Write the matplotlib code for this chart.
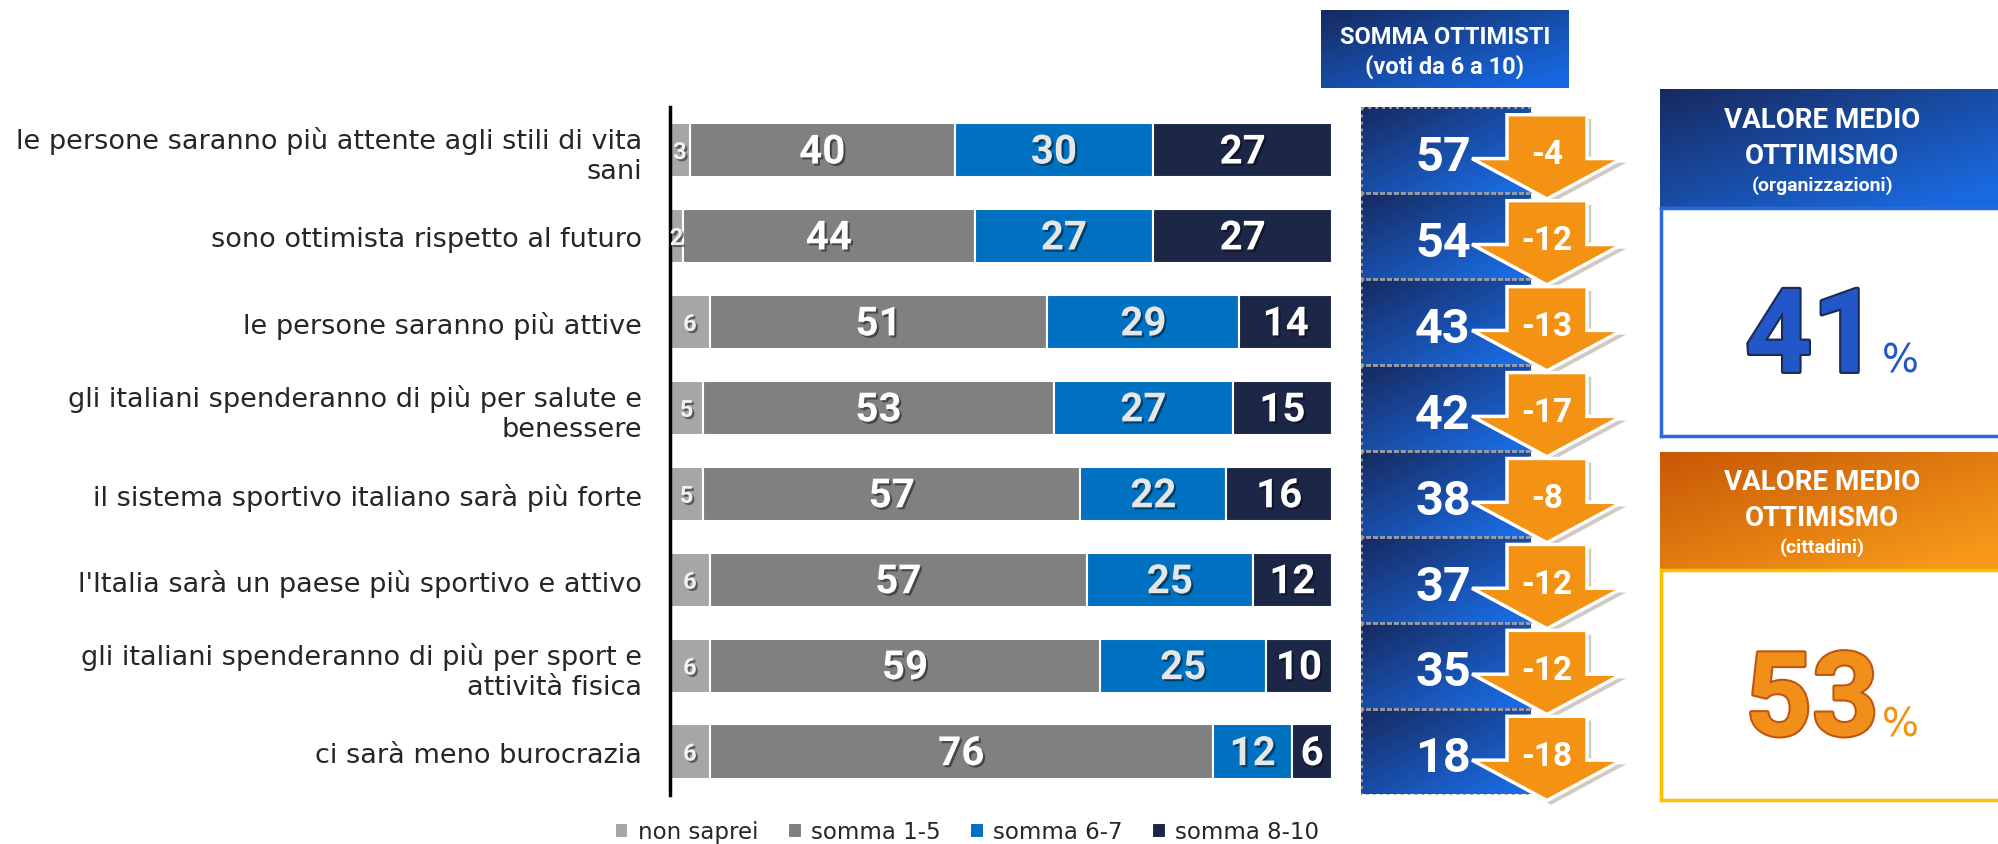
import numpy as np
import matplotlib
matplotlib.use('Agg')
import matplotlib.pyplot as plt
import matplotlib.patheffects as pe
from matplotlib.patches import Polygon, Rectangle
from matplotlib.colors import to_rgb

labels = ['le persone saranno più attente agli stili di vita\nsani',
          'sono ottimista rispetto al futuro',
          'le persone saranno più attive',
          'gli italiani spenderanno di più per salute e\nbenessere',
          'il sistema sportivo italiano sarà più forte',
          "l'Italia sarà un paese più sportivo e attivo",
          'gli italiani spenderanno di più per sport e\nattività fisica',
          'ci sarà meno burocrazia']
non_saprei = [3, 2, 6, 5, 5, 6, 6, 6]
somma_1_5 = [40, 44, 51, 53, 57, 57, 59, 76]
somma_6_7 = [30, 27, 29, 27, 22, 25, 25, 12]
somma_8_10 = [27, 27, 14, 15, 16, 12, 10, 6]
ottimisti = [57, 54, 43, 42, 38, 37, 35, 18]
delta = [-4, -12, -13, -17, -8, -12, -12, -18]
media_org = 41
media_citt = 53

W, H = 1999, 845
NARROW = ['Liberation Sans Narrow', 'Roboto', 'DejaVu Sans']
BOLD = ['Roboto', 'DejaVu Sans']

fig = plt.figure(figsize=(W / 100, H / 100), dpi=100)


def px_axes(x0, y0, x1, y1):
    return fig.add_axes([x0 / W, 1 - y1 / H, (x1 - x0) / W, (y1 - y0) / H])


def grad(c0, c1, n=64):
    xx, yy = np.meshgrid(np.linspace(0, 1, n), np.linspace(0, 1, n))
    t = np.clip(xx * 0.55 + yy * 0.55, 0, 1)[..., None]
    c0, c1 = np.array(to_rgb(c0)), np.array(to_rgb(c1))
    return c0 + t * (c1 - c0)


shadow = [pe.withSimplePatchShadow(offset=(1.5, -1.5), shadow_rgbFace='black', alpha=0.45)]

# stacked bars
ax = px_axes(670, 108, 1332, 795.5)
y = np.arange(len(labels))
series = [(non_saprei, 'non saprei', '#a6a6a6', '#f2f2f2', 17),
          (somma_1_5, 'somma 1-5', '#808080', 'white', 29),
          (somma_6_7, 'somma 6-7', '#0070c0', '#e6e6e6', 29),
          (somma_8_10, 'somma 8-10', '#1c2748', 'white', 29)]
left = np.zeros(len(labels))
handles = []
for vals, name, col, tcol, fs in series:
    vals = np.array(vals)
    b = ax.barh(y, vals, left=left, height=0.63, color=col, edgecolor='white',
                linewidth=1.5, label=name)
    handles.append(b)
    for yi, (l, v) in enumerate(zip(left, vals)):
        ax.text(l + v / 2, yi + 0.03, str(v), ha='center', va='center', color=tcol,
                fontsize=fs, fontweight='bold', family=NARROW, path_effects=shadow)
    left += vals

ax.set_xlim(0, 100)
ax.set_ylim(7.5, -0.5)
ax.set_yticks(y)
ax.set_yticklabels(labels, fontsize=19.5, color='#262626', linespacing=1.2)
ax.tick_params(axis='y', length=0, pad=20)
ax.set_xticks([])
for s in ['top', 'right', 'bottom']:
    ax.spines[s].set_visible(False)
ax.spines['left'].set_linewidth(2.5)
ax.spines['left'].set_color('black')

# somma ottimisti column with arrows
ax2 = px_axes(1361, 108, 1641, 795.5)
for i, (v, d) in enumerate(zip(ottimisti, delta)):
    ax2.imshow(grad('#172a60', '#1a6ae0'), extent=(0, 169, i + 0.5, i - 0.5),
               aspect='auto', zorder=1)
    ax2.add_patch(Rectangle((0, i - 0.5), 169, 1, fill=False, ec='#a0a0a0', lw=2,
                            ls=(0, (1, 1.5)), zorder=2))
    ax2.text(82, i + 0.08, str(v), ha='center', va='center', color='white',
             fontsize=35, fontweight='bold', family=BOLD, zorder=2)
    arrow = Polygon([(146, i - 0.41), (226, i - 0.41), (226, i + 0.10), (261, i + 0.10),
                     (186, i + 0.57), (111, i + 0.10), (146, i + 0.10)],
                    closed=True, fc='#f39213', ec='white', lw=2.5, joinstyle='miter',
                    clip_on=False, zorder=3 + i,
                    path_effects=[pe.SimplePatchShadow(offset=(3, -3), alpha=0.25), pe.Normal()])
    ax2.add_patch(arrow)
    ax2.text(186, i + 0.05, str(d), ha='center', va='center', color='white',
             fontsize=24, fontweight='bold', family=BOLD, zorder=3.5 + i)
ax2.set_xlim(0, 280)
ax2.set_ylim(7.5, -0.5)
ax2.axis('off')

# header somma ottimisti
hax = px_axes(1321, 11, 1569, 89)
hax.imshow(grad('#172a60', '#1668e0'), extent=(0, 1, 0, 1), aspect='auto')
hax.set_xlim(0, 1)
hax.set_ylim(0, 1)
hax.axis('off')
hax.text(0.5, 0.66, 'SOMMA OTTIMISTI', ha='center', va='center', color='white',
         fontsize=17, fontweight='bold', family=BOLD)
hax.text(0.5, 0.29, '(voti da 6 a 10)', ha='center', va='center', color='white',
         fontsize=17, fontweight='bold', family=BOLD)


def media_box(y0, y1, y2, c0, c1, border, sub, val, fcol, scol, pcol):
    hb = px_axes(1660, y0, 2005, y1)
    hb.imshow(grad(c0, c1), extent=(0, 1, 0, 1), aspect='auto')
    hb.set_xlim(0, 1)
    hb.set_ylim(0, 1)
    hb.axis('off')
    hb.text(0.47, 0.745, 'VALORE MEDIO', ha='center', va='center', color='white',
            fontsize=20, fontweight='bold', family=BOLD)
    hb.text(0.47, 0.44, 'OTTIMISMO', ha='center', va='center', color='white',
            fontsize=20, fontweight='bold', family=BOLD)
    hb.text(0.47, 0.19, sub, ha='center', va='center', color='white',
            fontsize=14, fontweight='bold', family=BOLD)
    wb = px_axes(1661, y1 + 1, 2005, y2)
    wb.set_xlim(1661, 2005)
    wb.set_ylim(y2, y1 + 1)
    wb.set_xticks([])
    wb.set_yticks([])
    for s in wb.spines.values():
        s.set_color(border)
        s.set_linewidth(2.5)
    wb.spines['right'].set_visible(False)
    base = y1 + (y2 - y1) * 0.72
    wb.text(1812, base, str(val), ha='center', va='baseline', color=fcol,
            fontsize=84, fontweight='bold', family=NARROW,
            path_effects=[pe.Stroke(linewidth=3, foreground=scol), pe.Normal()])
    wb.text(1900, base, '%', ha='center', va='baseline', color=pcol, fontsize=28,
            family=['DejaVu Sans'])


media_box(90, 208, 437, '#172a60', '#1a6ae0', '#2a6ae0', '(organizzazioni)',
          media_org, '#2356c8', '#1b2a50', '#2356c8')
media_box(453, 570, 801, '#c85806', '#f79a1a', '#ffc000', '(cittadini)',
          media_citt, '#f0901a', '#c0560e', '#f39213')

fig.legend(handles=handles, loc='center', bbox_to_anchor=(967 / W, 1 - 833 / H), ncol=4,
           frameon=False, handlelength=0.6, handleheight=0.6, handletextpad=0.4,
           columnspacing=1.3, fontsize=16.5, labelcolor='#262626')

fig.savefig('out.png', dpi=100)
